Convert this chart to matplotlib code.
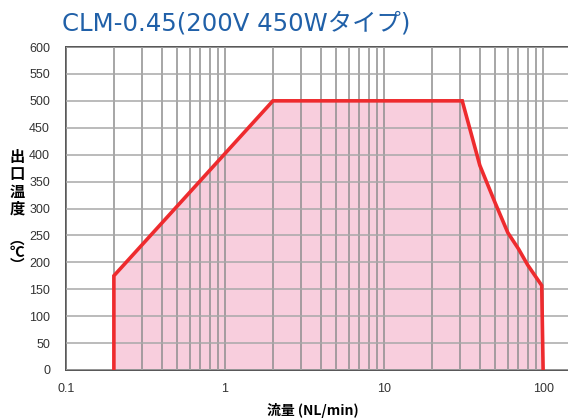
import matplotlib
matplotlib.use("Agg")
import matplotlib.pyplot as plt
from matplotlib.ticker import LogLocator, FixedLocator, NullFormatter
import numpy as np

# データ
flow = [0.2, 0.2, 2, 31, 40, 50, 60, 70, 80, 98, 100]
temp = [0, 175, 500, 500, 380, 310, 255, 225, 195, 157, 0]
y_ticks = list(range(0, 601, 50))
x_ticks = [0.1, 1, 10, 100]
x_labels = ["0.1", "1", "10", "100"]

title = "CLM-0.45(200V 450Wタイプ)"
ylabel_main = "出\n口\n温\n度"
ylabel_unit = "︵\n℃\n︶"
xlabel = "流量 (NL/min)"

jp = ["Noto Sans CJK JP", "DejaVu Sans"]
title_font = ["DejaVu Sans", "Noto Sans CJK JP"]
num = ["Liberation Sans", "DejaVu Sans"]

fig = plt.figure(figsize=(5.68, 4.18), dpi=100)
# 右端は画像の外まで伸びている
ax = fig.add_axes([66 / 568, 48 / 418, 525 / 568, 323 / 418])

ax.fill_between(flow, temp, 0, color="#f8cedd", lw=0, zorder=1)
ax.plot(flow, temp, color="#ee2b2e", lw=2.6, zorder=3, solid_joinstyle="miter")

ax.set_xscale("log")
ax.set_xlim(0.1, 200)
ax.set_ylim(0, 600)

ax.xaxis.set_major_locator(FixedLocator(x_ticks))
ax.xaxis.set_minor_locator(LogLocator(base=10, subs=np.arange(2, 10)))
ax.xaxis.set_minor_formatter(NullFormatter())
ax.set_xticks(x_ticks)
ax.set_xticklabels(x_labels, fontfamily=num, fontsize=9, color="#333333")
ax.set_yticks(y_ticks)
ax.set_yticklabels([str(v) for v in y_ticks], fontfamily=num, fontsize=9, color="#333333")

ax.grid(True, which="both", axis="x", color="#8e8e8e", lw=1.1, zorder=2)
ax.grid(True, which="major", axis="y", color="#a8a8a8", lw=1.1, zorder=2)
ax.set_axisbelow(False)
for line in ax.get_xgridlines() + ax.get_ygridlines():
    line.set_zorder(2)

ax.tick_params(axis="x", which="both", length=0, pad=9.5)
ax.tick_params(axis="y", which="both", length=0, pad=11.5)
for s in ["left", "bottom", "top"]:
    ax.spines[s].set_color("#555555")
    ax.spines[s].set_linewidth(1.4)
ax.spines["right"].set_visible(False)

fig.text(62 / 568, 1 - 31 / 418, title, fontfamily=title_font, fontsize=17.6,
         color="#2060a8", ha="left", va="baseline")

fig.text(17 / 568, 1 - 183 / 418, ylabel_main, fontfamily=jp, fontsize=11,
         fontweight="bold", ha="center", va="center", linespacing=1.1)
fig.text(17 / 568, 1 - 252 / 418, ylabel_unit, fontfamily=jp, fontsize=10.5,
         fontweight="bold", ha="center", va="center", linespacing=0.8)

fig.text(313 / 568, 1 - 410 / 418, xlabel, fontfamily=jp, fontsize=10,
         fontweight="bold", ha="center", va="center")

fig.savefig("out.png", dpi=100)
